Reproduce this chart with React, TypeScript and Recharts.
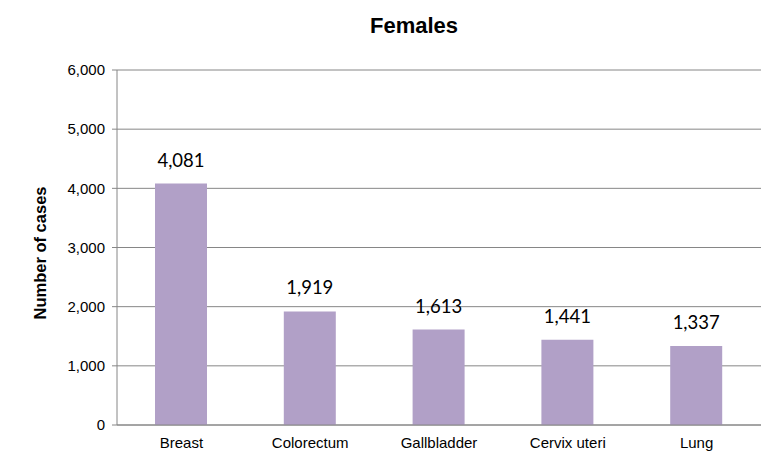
import React from "react";
import { BarChart, Bar, XAxis, YAxis, CartesianGrid, LabelList } from "recharts";

const categories = ["Breast", "Colorectum", "Gallbladder", "Cervix uteri", "Lung"];
const cases = [4081, 1919, 1613, 1441, 1337];
const yTicks = [0, 1000, 2000, 3000, 4000, 5000, 6000];

const data = categories.map((name, i) => ({ name, value: cases[i] }));

const fmt = (v: number) => v.toLocaleString("en-US");

export default function App() {
  return (
    <div style={{ position: "absolute", left: 0, top: 0, width: 772, height: 452, background: "#fff" }}>
      <BarChart
        width={772}
        height={452}
        data={data}
        margin={{ top: 70, right: 11, bottom: 0, left: 21 }}
      >
        <text x={414} y={33} textAnchor="middle" fontFamily="Liberation Sans, Arial, sans-serif" fontWeight="bold" fontSize={22} fill="#000">
          Females
        </text>
        <text
          x={0}
          y={0}
          transform="translate(46,253) rotate(-90)"
          textAnchor="middle"
          fontFamily="Liberation Sans, Arial, sans-serif"
          fontWeight="bold"
          fontSize={16.5}
          fill="#000"
        >
          Number of cases
        </text>
        <CartesianGrid vertical={false} stroke="#868686" strokeWidth={1} />
        <XAxis
          dataKey="name"
          height={27}
          tickLine={false}
          axisLine={{ stroke: "#868686" }}
          tick={{ fontFamily: "Liberation Sans, Arial, sans-serif", fontSize: 15, fill: "#000" }}
          tickMargin={6}
        />
        <YAxis
          width={96}
          domain={[0, 6000]}
          ticks={yTicks}
          tickFormatter={fmt}
          axisLine={{ stroke: "#868686" }}
          tickLine={{ stroke: "#868686" }}
          tickSize={5}
          tickMargin={7}
          tick={{ fontFamily: "Liberation Sans, Arial, sans-serif", fontSize: 15, fill: "#000" }}
          interval={0}
        />
        <Bar dataKey="value" fill="#B1A0C7" isAnimationActive={false} barSize={52}>
          <LabelList
            dataKey="value"
            position="top"
            offset={17}
            formatter={(v: any) => fmt(Number(v))}
            style={{ fontFamily: "Lato, 'Open Sans', sans-serif", fontSize: 18.5, fill: "#000" }}
          />
        </Bar>
      </BarChart>
    </div>
  );
}
